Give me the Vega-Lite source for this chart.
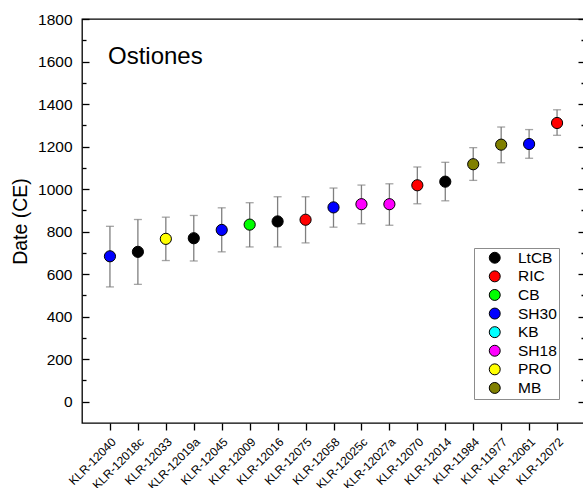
{
  "$schema": "https://vega.github.io/schema/vega-lite/v6.json",
  "width": 503,
  "height": 404,
  "autosize": {"type": "none"},
  "padding": {"left": 82, "top": 19, "right": 0, "bottom": 65},
  "background": "white",
  "config": {
    "view": {"stroke": "black", "strokeWidth": 1.3},
    "font": "Liberation Sans"
  },
  "title": {
    "text": "Ostiones",
    "anchor": "start",
    "frame": "group",
    "orient": "top",
    "offset": 0,
    "dx": 26,
    "dy": 76,
    "baseline": "alphabetic",
    "fontSize": 24,
    "font": "Liberation Sans",
    "fontWeight": "normal",
    "color": "black"
  },
  "data": {
    "values": [
      {"id": "KLR-12040", "group": "SH30", "date": 684, "lo": 540, "hi": 825},
      {"id": "KLR-12018c", "group": "LtCB", "date": 705, "lo": 552, "hi": 857},
      {"id": "KLR-12033", "group": "PRO", "date": 766, "lo": 664, "hi": 868},
      {"id": "KLR-12019a", "group": "LtCB", "date": 769, "lo": 662, "hi": 876},
      {"id": "KLR-12045", "group": "SH30", "date": 808, "lo": 705, "hi": 912},
      {"id": "KLR-12009", "group": "CB", "date": 833, "lo": 728, "hi": 936},
      {"id": "KLR-12016", "group": "LtCB", "date": 848, "lo": 728, "hi": 964},
      {"id": "KLR-12075", "group": "RIC", "date": 856, "lo": 747, "hi": 964},
      {"id": "KLR-12058", "group": "SH30", "date": 914, "lo": 821, "hi": 1005},
      {"id": "KLR-12025c", "group": "SH18", "date": 929, "lo": 837, "hi": 1019},
      {"id": "KLR-12027a", "group": "SH18", "date": 929, "lo": 830, "hi": 1025},
      {"id": "KLR-12070", "group": "RIC", "date": 1018, "lo": 931, "hi": 1104},
      {"id": "KLR-12014", "group": "LtCB", "date": 1035, "lo": 945, "hi": 1126},
      {"id": "KLR-11984", "group": "MB", "date": 1117, "lo": 1041, "hi": 1195},
      {"id": "KLR-11977", "group": "MB", "date": 1209, "lo": 1124, "hi": 1292},
      {"id": "KLR-12061", "group": "SH30", "date": 1212, "lo": 1145, "hi": 1280},
      {"id": "KLR-12072", "group": "RIC", "date": 1311, "lo": 1253, "hi": 1373}
    ]
  },
  "encoding": {
    "x": {
      "field": "id",
      "type": "nominal",
      "sort": null,
      "scale": {"type": "point", "padding": 1},
      "axis": {
        "title": null,
        "labelAngle": -45,
        "labelAlign": "right",
        "labelBaseline": "top",
        "labelFontSize": 12,
        "labelFont": "Liberation Sans",
        "labelColor": "black",
        "labelPadding": 6,
        "labelOverlap": false,
        "labelBound": false,
        "tickSize": 7,
        "tickColor": "black",
        "tickWidth": 1.3,
        "domain": false,
        "grid": false
      }
    }
  },
  "layer": [
    {
      "mark": {"type": "rule", "color": "#7f7f7f", "strokeWidth": 1.3},
      "encoding": {
        "y": {
          "field": "lo",
          "type": "quantitative",
          "scale": {"domain": [-100, 1800], "nice": false, "zero": false},
          "axis": {
            "orient": "left",
            "values": [0, 200, 400, 600, 800, 1000, 1200, 1400, 1600, 1800],
            "format": "d",
            "ticks": false,
            "domain": false,
            "grid": false,
            "labelFontSize": 15.5,
            "labelFont": "Liberation Sans",
            "labelColor": "black",
            "labelPadding": 10,
            "title": "Date (CE)",
            "titleFont": "Liberation Sans",
            "titleFontSize": 19.5,
            "titleFontWeight": "normal",
            "titleColor": "black",
            "titleX": -56,
            "titleY": 202,
            "titleAlign": "center",
            "titleBaseline": "alphabetic",
            "titleAngle": 270
          }
        },
        "y2": {"field": "hi"}
      }
    },
    {
      "mark": {"type": "tick", "orient": "horizontal", "color": "#7f7f7f", "size": 8, "thickness": 1.3},
      "encoding": {
        "y": {
          "field": "lo",
          "type": "quantitative",
          "scale": {"domain": [-100, 1800], "nice": false, "zero": false},
          "axis": {
            "orient": "right",
            "offset": -503,
            "values": [0, 100, 200, 300, 400, 500, 600, 700, 800, 900, 1000, 1100, 1200, 1300, 1400, 1500, 1600, 1700, 1800],
            "labels": false,
            "domain": false,
            "grid": false,
            "title": null,
            "tickColor": "black",
            "tickWidth": 1.3,
            "tickSize": {"condition": {"test": "datum.value % 200 === 0", "value": 7}, "value": 4}
          }
        }
      }
    },
    {
      "mark": {"type": "tick", "orient": "horizontal", "color": "#7f7f7f", "size": 8, "thickness": 1.3},
      "encoding": {
        "y": {
          "field": "hi",
          "type": "quantitative",
          "scale": {"domain": [-100, 1800], "nice": false, "zero": false},
          "axis": {
            "orient": "left",
            "offset": -503,
            "values": [0, 100, 200, 300, 400, 500, 600, 700, 800, 900, 1000, 1100, 1200, 1300, 1400, 1500, 1600, 1700, 1800],
            "labels": false,
            "domain": false,
            "grid": false,
            "title": null,
            "tickColor": "black",
            "tickWidth": 1.3,
            "tickSize": {"condition": {"test": "datum.value % 200 === 0", "value": 7}, "value": 4}
          }
        }
      }
    },
    {
      "mark": {"type": "circle", "size": 125, "opacity": 1, "stroke": "black", "strokeWidth": 1},
      "encoding": {
        "y": {
          "field": "date",
          "type": "quantitative",
          "scale": {"domain": [-100, 1800], "nice": false, "zero": false},
          "axis": null
        },
        "color": {
          "field": "group",
          "type": "nominal",
          "scale": {
            "domain": ["LtCB", "RIC", "CB", "SH30", "KB", "SH18", "PRO", "MB"],
            "range": ["#000000", "#ff0000", "#00ff00", "#0000ff", "#00ffff", "#ff00ff", "#ffff00", "#808000"]
          },
          "legend": {
            "title": null,
            "orient": "none",
            "legendX": 392,
            "legendY": 229,
            "strokeColor": "#8c8c8c",
            "fillColor": "white",
            "padding": 2,
            "symbolOffset": 11,
            "symbolType": "circle",
            "symbolSize": 120,
            "symbolStrokeColor": "black",
            "symbolStrokeWidth": 1,
            "symbolOpacity": 1,
            "labelFontSize": 15.5,
            "labelFont": "Liberation Sans",
            "labelColor": "black",
            "labelOffset": 15.5,
            "rowPadding": 1.6
          }
        }
      }
    }
  ],
  "resolve": {"axis": {"y": "independent"}}
}
